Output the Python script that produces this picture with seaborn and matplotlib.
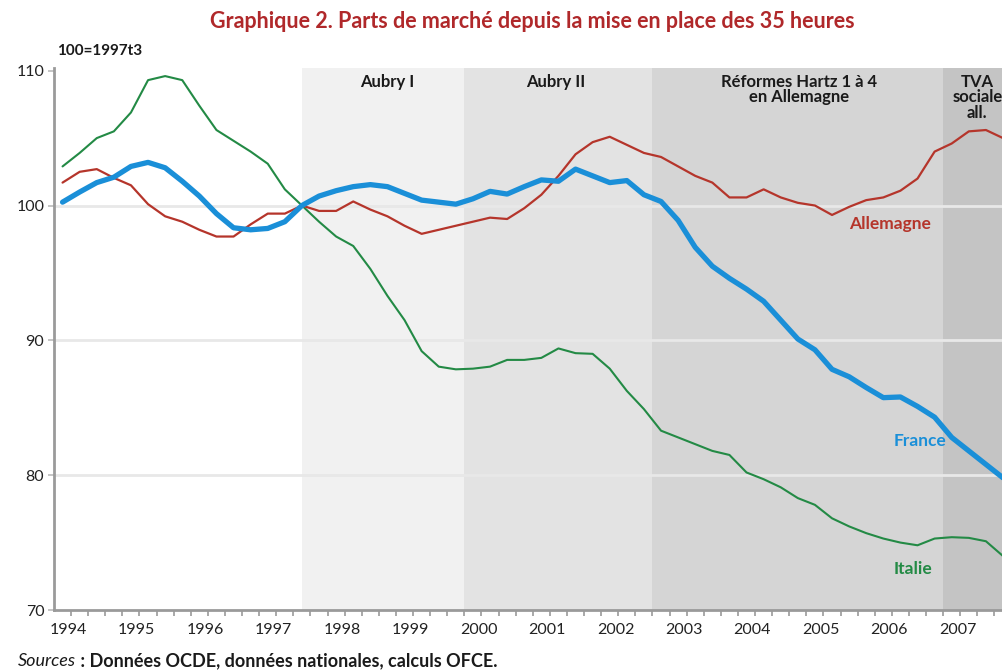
import numpy as np
import pandas as pd
import matplotlib.pyplot as plt
import seaborn as sns

# Quarterly data, 1994t1 .. 2007t4 (100 = 1997t3)
annees = list(range(1994, 2008))
trimestres = [f"{a}t{q}" for a in annees for q in range(1, 5)]

france = [100.25, 101.0, 101.7, 102.1, 102.9, 103.2, 102.8, 101.8,
          100.7, 99.4, 98.35, 98.2, 98.3, 98.8, 100.0, 100.7,
          101.1, 101.4, 101.55, 101.4, 100.9, 100.4, 100.25, 100.1,
          100.5, 101.05, 100.85, 101.4, 101.9, 101.8, 102.7, 102.2,
          101.7, 101.85, 100.8, 100.3, 98.9, 96.9, 95.5, 94.6,
          93.8, 92.9, 91.5, 90.1, 89.3, 87.85, 87.3, 86.5,
          85.75, 85.8, 85.1, 84.3, 82.8, 81.8, 80.8, 79.8]

allemagne = [101.7, 102.5, 102.7, 102.05, 101.5, 100.1, 99.2, 98.8,
             98.2, 97.7, 97.7, 98.6, 99.4, 99.4, 100.0, 99.6,
             99.6, 100.3, 99.7, 99.2, 98.5, 97.9, 98.2, 98.5,
             98.8, 99.1, 99.0, 99.8, 100.8, 102.2, 103.8, 104.7,
             105.1, 104.5, 103.9, 103.6, 102.9, 102.2, 101.7, 100.6,
             100.6, 101.2, 100.6, 100.2, 100.0, 99.3, 99.9, 100.4,
             100.6, 101.1, 102.0, 104.0, 104.6, 105.5, 105.6, 105.0]

italie = [102.9, 103.9, 105.0, 105.5, 106.9, 109.3, 109.6, 109.3,
          107.4, 105.6, 104.8, 104.0, 103.1, 101.2, 100.0, 98.8,
          97.7, 97.0, 95.3, 93.3, 91.5, 89.2, 88.05, 87.85,
          87.9, 88.05, 88.55, 88.55, 88.7, 89.4, 89.05, 89.0,
          87.9, 86.25, 84.9, 83.3, 82.8, 82.3, 81.8, 81.5,
          80.2, 79.7, 79.1, 78.3, 77.8, 76.8, 76.2, 75.7,
          75.3, 75.0, 74.8, 75.3, 75.4, 75.35, 75.1, 74.0]

# periods shown as grey bands
periodes = ["Aubry I", "Aubry II", "Réformes Hartz 1 à 4\nen Allemagne", "TVA\nsociale\nall."]
debuts = [1997.625, 2000.0, 2002.75, 2007.0]
fins = [2000.0, 2002.75, 2007.0, 2008.0]
gris = ["#f1f1f1", "#e3e3e3", "#d5d5d5", "#c4c4c4"]

# quarter -> position on the time axis (middle of the quarter)
temps = [int(t[:4]) + (int(t[-1]) - 1) * 0.25 + 0.125 for t in trimestres]

df = pd.DataFrame({"temps": temps, "France": france,
                   "Allemagne": allemagne, "Italie": italie})
long_df = df.melt(id_vars="temps", var_name="pays", value_name="indice")

couleurs = {"France": "#1a8fd8", "Allemagne": "#b5352b", "Italie": "#238a45"}
epaisseurs = {"France": 3.8, "Allemagne": 1.6, "Italie": 1.5}

sns.set_style("white")
plt.rcParams["font.family"] = ["Lato", "DejaVu Sans"]

fig = plt.figure(figsize=(10.02, 6.72), dpi=100)
ax = fig.add_axes([54 / 1002, 1 - 610 / 672, 1 - 54 / 1002, (610 - 68) / 672])

for d, f, g in zip(debuts, fins, gris):
    ax.axvspan(d, f, color=g, lw=0, zorder=0)

for v in [80, 90, 100]:
    ax.axhline(v, color="#e8e8e8", lw=2, zorder=1)

for pays in ["Italie", "Allemagne", "France"]:
    sns.lineplot(data=long_df[long_df["pays"] == pays], x="temps", y="indice",
                 color=couleurs[pays], lw=epaisseurs[pays], ax=ax, zorder=3)

ax.set_xlim(1994, 2007.86)
ax.set_ylim(70, 110.2)
ax.set_xlabel("")
ax.set_ylabel("")

# year labels a bit right of the year start, quarter ticks
ax.set_xticks([a + 0.21 for a in annees])
ax.set_xticklabels([str(a) for a in annees], fontsize=11.5, color="#222222")
ax.set_xticks(np.arange(1994.25, 2008, 0.25), minor=True)
ax.tick_params(axis="x", which="major", length=0, pad=9)
ax.tick_params(axis="x", which="minor", length=4, width=1.2, color="#999999",
               direction="out", bottom=True)
ax.set_yticks([70, 80, 90, 100, 110])
ax.set_yticklabels(["70", "80", "90", "100", "110"], fontsize=11.5, color="#222222")
ax.tick_params(axis="y", length=4, width=1.2, color="#bbbbbb", direction="out",
               left=True, pad=3)

for s in ["top", "right"]:
    ax.spines[s].set_visible(False)
for s in ["left", "bottom"]:
    ax.spines[s].set_color("#9a9a9a")
    ax.spines[s].set_linewidth(2)

# band titles
centres = [1998.87, 2001.34, 2004.9, 2007.5]
for lab, c in zip(periodes, centres):
    ax.text(c, 109.75, lab, ha="center", va="top", fontsize=12,
            fontweight="bold", color="#1a1a1a", linespacing=0.95)

# series labels
ax.text(2006.22, 98.6, "Allemagne", ha="center", va="center", fontsize=12.5,
        fontweight="bold", color=couleurs["Allemagne"])
ax.text(2006.66, 82.57, "France", ha="center", va="center", fontsize=12.5,
        fontweight="bold", color=couleurs["France"])
ax.text(2006.56, 73.07, "Italie", ha="center", va="center", fontsize=12.5,
        fontweight="bold", color=couleurs["Italie"])

fig.text(532 / 1002, 1 - 22 / 672,
         "Graphique 2. Parts de marché depuis la mise en place des 35 heures",
         ha="center", va="center", fontsize=15.5, fontweight="bold", color="#b0282a")
fig.text(100 / 1002, 1 - 51 / 672, "100=1997t3", ha="center", va="center",
         fontsize=11, fontweight="bold", color="#1a1a1a")

src = fig.text(18 / 1002, 1 - 661 / 672, "Sources", ha="left", va="center",
               fontsize=13, style="italic", color="#1a1a1a")
fig.canvas.draw()
ax.annotate(" : Données OCDE, données nationales, calculs OFCE.", xy=(1, 0.5),
            xycoords=src, ha="left", va="center", fontsize=13,
            fontweight="bold", color="#1a1a1a", annotation_clip=False)

fig.savefig("out.png", dpi=100)
